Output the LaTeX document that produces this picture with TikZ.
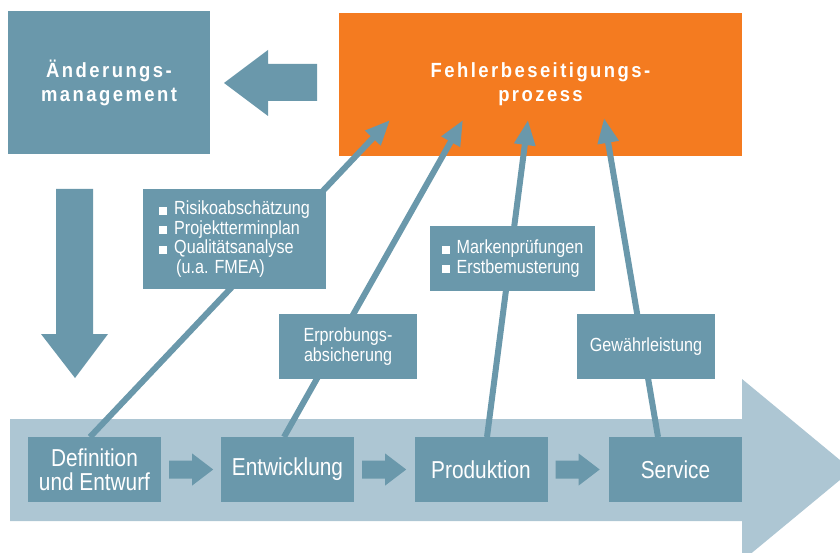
\documentclass[tikz,border=0pt]{standalone}
\usepackage{fontspec}
\setmainfont{Liberation Sans}[FakeStretch=0.85]
\newfontfamily\titlefont{Liberation Sans}[LetterSpace=12,FakeStretch=0.9]
\usetikzlibrary{arrows.meta,calc}
\definecolor{steel}{HTML}{6A98AB}
\definecolor{lightsteel}{HTML}{ADC6D3}
\definecolor{orng}{HTML}{F47B20}
\newcommand{\bul}{\rule{8pt}{8pt}\hspace{7pt}}
\tikzset{
  box/.style={fill=steel, inner sep=0pt, text=white, align=center},
  titletext/.style={font=\titlefont\bfseries\fontsize{20.5}{24}\selectfont},
  labeltext/.style={font=\fontsize{19}{19.5}\selectfont},
  proctext/.style={font=\fontsize{24.5}{24}\selectfont},
  conn/.style={draw=steel, line width=6pt, -{Triangle[length=25pt,width=20pt]}},
  blockarrow/.style={fill=steel}
}
\begin{document}
\begin{tikzpicture}[x=1pt,y=-1pt]
\useasboundingbox (0,0) rectangle (840,553);
\clip (0,0) rectangle (840,553);
% big light process arrow
\fill[lightsteel] (10,419) -- (742,419) -- (742,379) -- (852,470) -- (742,561) -- (742,521) -- (10,521) -- cycle;

% top boxes
\node[box, titletext, minimum width=202pt, minimum height=143pt] (aend) at (109,82.5) {Änderungs-\\management};
\node[box, fill=orng, titletext, minimum width=403pt, minimum height=143pt] (fehl) at (540.5,84.5) {Fehlerbeseitigungs-\\prozess};

% block arrow orange -> aenderung
\fill[steel] (317,64) -- (268,64) -- (268,50) -- (224,83) -- (268,116) -- (268,101) -- (317,101) -- cycle;
% block arrow down
\fill[steel] (56,189) -- (93,189) -- (93,334) -- (108,334) -- (75,378) -- (41,334) -- (56,334) -- cycle;

% process boxes positions
\coordinate (cdef) at (94.5,469.5);
\coordinate (cent) at (287.5,469.5);
\coordinate (cpro) at (481,469.5);
\coordinate (cser) at (675.5,469.5);

% connector ends
\coordinate (s1) at (90,437);
\coordinate (s2) at (284,437);
\coordinate (s3) at (487,437);
\coordinate (s4) at (658,437);
\coordinate (t1) at (390,120);
\coordinate (t2) at (463,120);
\coordinate (t3) at (528,120);
\coordinate (t4) at (604,118);

\draw[conn] (s1) -- (t1);
\draw[conn] (s2) -- (t2);
\draw[conn] (s3) -- (t3);
\draw[conn] (s4) -- (t4);

% label boxes
\node[box, labeltext, align=left, minimum width=183pt, minimum height=100pt] (risk) at (234.5,239)
 {\bul Risikoabschätzung\\ \bul Projektterminplan\\ \bul Qualitätsanalyse\\ \hspace*{17pt}(u.a. FMEA)};
\node[box, labeltext, align=left, minimum width=165pt, minimum height=65pt] (mark) at (512.5,258.5)
 {\bul Markenprüfungen\\ \bul Erstbemusterung};
\node[box, labeltext, minimum width=138pt, minimum height=65pt] (erp) at (348,346.5) {Erprobungs-\\absicherung};
\node[box, labeltext, minimum width=138pt, minimum height=65pt] (gew) at (646,346.5) {Gewährleistung};

% process boxes
\node[box, proctext, minimum width=133pt, minimum height=65pt] (def) at (cdef) {Definition\\und Entwurf};
\node[box, proctext, minimum width=133pt, minimum height=65pt] (ent) at (cent) {Entwicklung};
\node[box, proctext, minimum width=133pt, minimum height=65pt] (pro) at (cpro) {Produktion};
\node[box, proctext, minimum width=133pt, minimum height=65pt] (ser) at (cser) {Service};

\foreach \a in {def,ent,pro}{
  \fill[blockarrow] ($(\a.east)+(8,-9)$) -- ++(23,0) -- ++(0,-7) -- ++(21,16) -- ++(-21,16) -- ++(0,-7) -- ++(-23,0) -- cycle;
}
\end{tikzpicture}
\end{document}
